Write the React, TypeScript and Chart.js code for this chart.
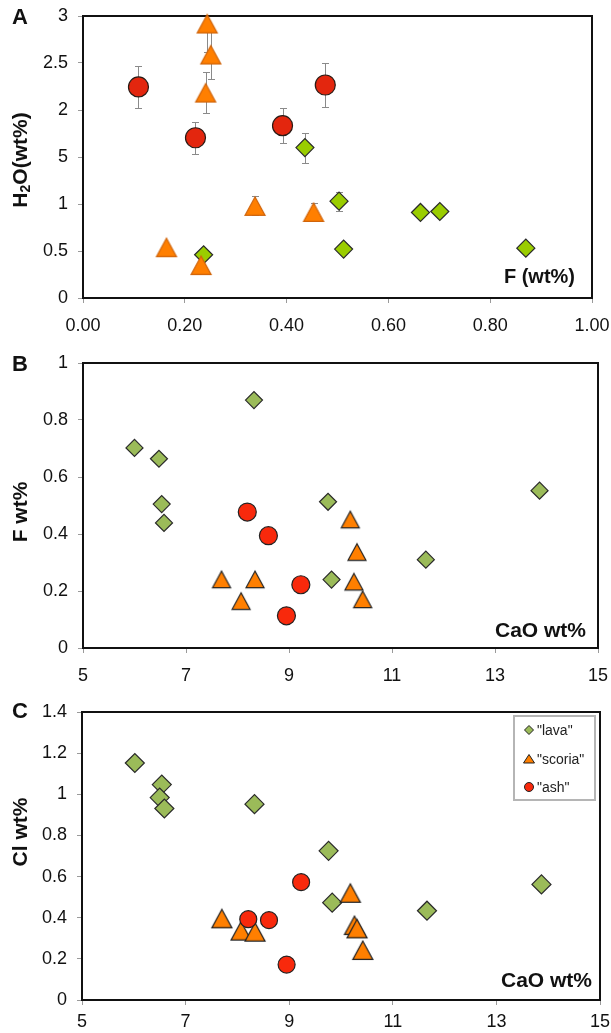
import React, { useEffect, useRef } from 'react';
import { Chart, registerables } from 'chart.js';
Chart.register(...registerables);

// ---------------- Panel A : H2O (wt%) vs F (wt%) ----------------
const aLavaF = [0.436, 0.503, 0.663, 0.701, 0.512, 0.870, 0.237];
const aLavaH2O = [1.60, 1.03, 0.91, 0.92, 0.52, 0.53, 0.46];
const aLavaErr = [0.16, 0.10, 0, 0, 0, 0, 0];
const aScoriaF = [0.244, 0.251, 0.241, 0.338, 0.453, 0.164, 0.232];
const aScoriaH2O = [2.92, 2.59, 2.185, 0.98, 0.915, 0.54, 0.35];
const aScoriaErr = [0.30, 0.26, 0.22, 0.10, 0.10, 0, 0];
const aAshF = [0.109, 0.221, 0.392, 0.476];
const aAshH2O = [2.245, 1.705, 1.833, 2.266];
const aAshErr = [0.22, 0.17, 0.185, 0.23];
const aXTickLabels = ['0.00', '0.20', '0.40', '0.60', '0.80', '1.00'];
const aYTickLabels = ['0', '0.5', '1', '5', '2', '2.5', '3'];

// ---------------- Panel B : F wt% vs CaO wt% ----------------
const bLavaCaO = [6.00, 6.475, 6.528, 6.573, 8.32, 9.758, 9.826, 11.657, 13.865];
const bLavaF = [0.702, 0.664, 0.505, 0.439, 0.870, 0.513, 0.240, 0.310, 0.552];
const bScoriaCaO = [7.69, 8.34, 8.07, 10.19, 10.32, 10.26, 10.43];
const bScoriaF = [0.240, 0.240, 0.164, 0.450, 0.336, 0.232, 0.170];
const bAshCaO = [8.19, 8.60, 9.23, 8.95];
const bAshF = [0.477, 0.394, 0.222, 0.113];
const bYTickLabels = ['0', '0.2', '0.4', '0.6', '0.8', '1'];

// ---------------- Panel C : Cl wt% vs CaO wt% ----------------
const cLavaCaO = [6.02, 6.54, 6.50, 6.59, 8.33, 9.76, 9.83, 11.66, 13.87];
const cLavaCl = [1.152, 1.047, 0.984, 0.931, 0.952, 0.725, 0.473, 0.434, 0.562];
const cScoriaCaO = [7.70, 8.07, 8.34, 10.18, 10.26, 10.31, 10.42];
const cScoriaCl = [0.397, 0.337, 0.332, 0.521, 0.364, 0.348, 0.243];
const cAshCaO = [8.21, 8.61, 9.23, 8.95];
const cAshCl = [0.393, 0.388, 0.573, 0.172];
const cYTickLabels = ['0', '0.2', '0.4', '0.6', '0.8', '1', '1.2', '1.4'];

const caoTickLabels = ['5', '7', '9', '11', '13', '15'];
const legendLabels = ['"lava"', '"scoria"', '"ash"'];
const panelLetters = ['A', 'B', 'C'];

const FONT = "'Liberation Sans', Arial, Helvetica, sans-serif";

type Series = {
  x: number[];
  y: number[];
  err?: number[];
  kind: 'diamond' | 'triangle' | 'circle';
  fill: string;
  stroke: string;
  size: number; // radius, or triangle width
  order: number;
};

type Spec = {
  height: number;
  area: { left: number; right: number; top: number; bottom: number };
  xMin: number; xMax: number; xStep: number; xLabels: string[];
  yMin: number; yMax: number; yStep: number; yLabels: string[];
  xTickPad: number;
  series: Series[];
  letter: { text: string; x: number; y: number };
  yTitle: { parts: { t: string; sub?: boolean }[]; x: number; y: number };
  xTitle: { text: string; right: number; y: number; size: number };
  legend?: { x: number; y: number; w: number; h: number; rows: number[]; mx: number; tx: number };
};

function makeTriangle(w: number, h: number, fill: string, stroke: string, lw: number) {
  const pad = 2;
  const c = document.createElement('canvas');
  c.width = Math.round(w + pad * 2);
  c.height = Math.round(h + pad * 2);
  const g = c.getContext('2d')!;
  g.beginPath();
  g.moveTo(c.width / 2, pad);
  g.lineTo(c.width - pad, pad + h);
  g.lineTo(pad, pad + h);
  g.closePath();
  g.fillStyle = fill;
  g.fill();
  g.lineWidth = lw;
  g.strokeStyle = stroke;
  g.lineJoin = 'miter';
  g.stroke();
  return c;
}

function buildConfig(spec: Spec): any {
  const datasets = spec.series.map((s) => {
    const base: any = {
      data: s.x.map((xv, i) => ({ x: xv, y: s.y[i] })),
      order: s.order,
      clip: false,
      showLine: false,
    };
    if (s.kind === 'triangle') {
      base.pointStyle = makeTriangle(s.size, s.size * 0.92, s.fill, s.stroke, 1.2);
      base.pointRadius = s.size / 2;
    } else {
      base.pointStyle = s.kind === 'diamond' ? 'rectRot' : 'circle';
      base.pointRadius = s.size;
      base.backgroundColor = s.fill;
      base.borderColor = s.stroke;
      base.borderWidth = 1.2;
    }
    return base;
  });

  const areaPlugin = {
    id: 'areaAndErrors',
    beforeDatasetsDraw(chart: any) {
      const { ctx, chartArea } = chart;
      const xs = chart.scales.x;
      const ys = chart.scales.y;
      ctx.save();
      ctx.strokeStyle = '#111';
      ctx.lineWidth = 2;
      ctx.strokeRect(chartArea.left, chartArea.top, chartArea.right - chartArea.left, chartArea.bottom - chartArea.top);
      ctx.restore();

      ctx.save();
      ctx.beginPath();
      ctx.rect(chartArea.left, chartArea.top, chartArea.right - chartArea.left, chartArea.bottom - chartArea.top);
      ctx.clip();
      ctx.strokeStyle = '#8a8a8a';
      ctx.lineWidth = 1;
      spec.series.forEach((s) => {
        if (!s.err) return;
        s.x.forEach((xv, i) => {
          const e = s.err![i];
          if (!e) return;
          const px = Math.round(xs.getPixelForValue(xv)) + 0.5;
          const y1 = Math.round(ys.getPixelForValue(s.y[i] + e)) + 0.5;
          const y2 = Math.round(ys.getPixelForValue(s.y[i] - e)) + 0.5;
          ctx.beginPath();
          ctx.moveTo(px, y1); ctx.lineTo(px, y2);
          ctx.moveTo(px - 3.5, y1); ctx.lineTo(px + 3.5, y1);
          ctx.moveTo(px - 3.5, y2); ctx.lineTo(px + 3.5, y2);
          ctx.stroke();
        });
      });
      ctx.restore();
    },
    afterDraw(chart: any) {
      const { ctx } = chart;
      ctx.save();
      ctx.fillStyle = '#111';
      // panel letter
      ctx.font = `bold 22px ${FONT}`;
      ctx.textAlign = 'center';
      ctx.textBaseline = 'middle';
      ctx.fillText(spec.letter.text, spec.letter.x, spec.letter.y);
      // inline x title
      ctx.font = `bold ${spec.xTitle.size}px ${FONT}`;
      ctx.textAlign = 'right';
      ctx.fillText(spec.xTitle.text, spec.xTitle.right, spec.xTitle.y);
      // rotated y title
      ctx.translate(spec.yTitle.x, spec.yTitle.y);
      ctx.rotate(-Math.PI / 2);
      ctx.textAlign = 'left';
      ctx.textBaseline = 'alphabetic';
      const main = `bold 21px ${FONT}`;
      const sub = `bold 14px ${FONT}`;
      let total = 0;
      spec.yTitle.parts.forEach((p) => {
        ctx.font = p.sub ? sub : main;
        total += ctx.measureText(p.t).width;
      });
      let cx = -total / 2;
      spec.yTitle.parts.forEach((p) => {
        ctx.font = p.sub ? sub : main;
        ctx.fillText(p.t, cx, p.sub ? 11 : 7.5);
        cx += ctx.measureText(p.t).width;
      });
      ctx.restore();

      if (spec.legend) {
        const L = spec.legend;
        ctx.save();
        ctx.fillStyle = '#fff';
        ctx.fillRect(L.x, L.y, L.w, L.h);
        ctx.strokeStyle = '#b5b5b5';
        ctx.lineWidth = 2;
        ctx.strokeRect(L.x, L.y, L.w, L.h);
        spec.series.forEach((s, i) => {
          const y = L.rows[i];
          const x = L.mx;
          ctx.beginPath();
          if (s.kind === 'diamond') {
            ctx.moveTo(x - 4.5, y); ctx.lineTo(x, y - 4.5); ctx.lineTo(x + 4.5, y); ctx.lineTo(x, y + 4.5);
          } else if (s.kind === 'triangle') {
            ctx.moveTo(x, y - 4.5); ctx.lineTo(x + 5.5, y + 4); ctx.lineTo(x - 5.5, y + 4);
          } else {
            ctx.arc(x, y, 4.5, 0, Math.PI * 2);
          }
          ctx.closePath();
          ctx.fillStyle = s.fill;
          ctx.fill();
          ctx.strokeStyle = '#222';
          ctx.lineWidth = 1;
          ctx.stroke();
          ctx.fillStyle = '#222';
          ctx.font = `14px ${FONT}`;
          ctx.textAlign = 'left';
          ctx.textBaseline = 'middle';
          ctx.fillText(legendLabels[i], L.tx, y + 1);
        });
        ctx.restore();
      }
    },
  };

  const W = 611;
  const tickFont = { family: FONT, size: 18 };
  return {
    type: 'scatter',
    data: { datasets },
    options: {
      responsive: false,
      animation: false,
      events: [],
      layout: { padding: { left: 0, right: W - spec.area.right, top: spec.area.top, bottom: 0 } },
      plugins: { legend: { display: false }, tooltip: { enabled: false } },
      scales: {
        x: {
          type: 'linear',
          min: spec.xMin, max: spec.xMax,
          border: { display: false },
          grid: { display: true, drawOnChartArea: false, drawTicks: true, tickLength: 5, color: '#9a9a9a', lineWidth: 1 },
          ticks: {
            stepSize: spec.xStep, autoSkip: false, maxRotation: 0, padding: spec.xTickPad,
            color: '#111', font: tickFont,
            callback: (_v: any, i: number) => spec.xLabels[i],
          },
          afterFit: (sc: any) => {
            sc.height = spec.height - spec.area.bottom;
            sc.paddingLeft = 0; sc.paddingRight = 0;
          },
        },
        y: {
          type: 'linear',
          min: spec.yMin, max: spec.yMax,
          border: { display: false },
          grid: { display: true, drawOnChartArea: false, drawTicks: true, tickLength: 5, color: '#9a9a9a', lineWidth: 1 },
          ticks: {
            stepSize: spec.yStep, autoSkip: false, padding: 10,
            color: '#111', font: tickFont,
            callback: (_v: any, i: number) => spec.yLabels[i],
          },
          afterFit: (sc: any) => {
            sc.width = spec.area.left;
            sc.paddingTop = 0; sc.paddingBottom = 0;
          },
        },
      },
    },
    plugins: [areaPlugin],
  };
}

const LAVA_A = '#9acd00';
const LAVA_BC = '#9bbb59';
const SCORIA = '#ff7f00';
const ASH_A = '#e3260e';
const ASH_BC = '#f8290c';

function specA(): Spec {
  return {
    height: 340,
    area: { left: 83, right: 592, top: 16, bottom: 298 },
    xMin: 0, xMax: 1, xStep: 0.2, xLabels: aXTickLabels,
    yMin: 0, yMax: 3, yStep: 0.5, yLabels: aYTickLabels,
    xTickPad: 12,
    series: [
      { x: aLavaF, y: aLavaH2O, err: aLavaErr, kind: 'diamond', fill: LAVA_A, stroke: '#2a2a2a', size: 9, order: 2 },
      { x: aScoriaF, y: aScoriaH2O, err: aScoriaErr, kind: 'triangle', fill: SCORIA, stroke: '#d0640a', size: 20, order: 1 },
      { x: aAshF, y: aAshH2O, err: aAshErr, kind: 'circle', fill: ASH_A, stroke: '#2a1a14', size: 10, order: 0 },
    ],
    letter: { text: panelLetters[0], x: 20, y: 18 },
    yTitle: { parts: [{ t: 'H' }, { t: '2', sub: true }, { t: 'O(wt%)' }], x: 19, y: 160 },
    xTitle: { text: 'F (wt%)', right: 575, y: 277, size: 20 },
  };
}

function specB(): Spec {
  return {
    height: 350,
    area: { left: 83, right: 598, top: 23, bottom: 308 },
    xMin: 5, xMax: 15, xStep: 2, xLabels: caoTickLabels,
    yMin: 0, yMax: 1, yStep: 0.2, yLabels: bYTickLabels,
    xTickPad: 12,
    series: [
      { x: bLavaCaO, y: bLavaF, kind: 'diamond', fill: LAVA_BC, stroke: '#2a2a2a', size: 8.5, order: 2 },
      { x: bScoriaCaO, y: bScoriaF, kind: 'triangle', fill: SCORIA, stroke: '#222', size: 18, order: 1 },
      { x: bAshCaO, y: bAshF, kind: 'circle', fill: ASH_BC, stroke: '#222', size: 9, order: 0 },
    ],
    letter: { text: panelLetters[1], x: 20, y: 25 },
    yTitle: { parts: [{ t: 'F wt%' }], x: 19, y: 172 },
    xTitle: { text: 'CaO wt%', right: 586, y: 291, size: 21 },
  };
}

function specC(): Spec {
  return {
    height: 343,
    area: { left: 82, right: 603, top: 22, bottom: 310 },
    xMin: 5, xMax: 15, xStep: 2, xLabels: caoTickLabels,
    yMin: 0, yMax: 1.4, yStep: 0.2, yLabels: cYTickLabels,
    xTickPad: 6,
    series: [
      { x: cLavaCaO, y: cLavaCl, kind: 'diamond', fill: LAVA_BC, stroke: '#2a2a2a', size: 9.5, order: 2 },
      { x: cScoriaCaO, y: cScoriaCl, kind: 'triangle', fill: SCORIA, stroke: '#222', size: 20, order: 1 },
      { x: cAshCaO, y: cAshCl, kind: 'circle', fill: ASH_BC, stroke: '#222', size: 8.5, order: 0 },
    ],
    letter: { text: panelLetters[2], x: 20, y: 22 },
    yTitle: { parts: [{ t: 'Cl wt%' }], x: 19, y: 142 },
    xTitle: { text: 'CaO wt%', right: 592, y: 291, size: 21 },
    legend: { x: 514, y: 26, w: 81, h: 84, rows: [40, 69, 97], mx: 529, tx: 537 },
  };
}

function Panel({ top, spec }: { top: number; spec: () => Spec }) {
  const ref = useRef<HTMLCanvasElement>(null);
  const s = spec();
  useEffect(() => {
    const chart = new Chart(ref.current!, buildConfig(spec()));
    return () => chart.destroy();
  }, []);
  return (
    <canvas
      ref={ref}
      width={611}
      height={s.height}
      style={{ position: 'absolute', left: 0, top, width: 611, height: s.height, display: 'block' }}
    />
  );
}

export default function App() {
  return (
    <div style={{ position: 'absolute', left: 0, top: 0, width: 611, height: 1033, background: '#fff', overflow: 'hidden' }}>
      <Panel top={0} spec={specA} />
      <Panel top={340} spec={specB} />
      <Panel top={690} spec={specC} />
    </div>
  );
}
